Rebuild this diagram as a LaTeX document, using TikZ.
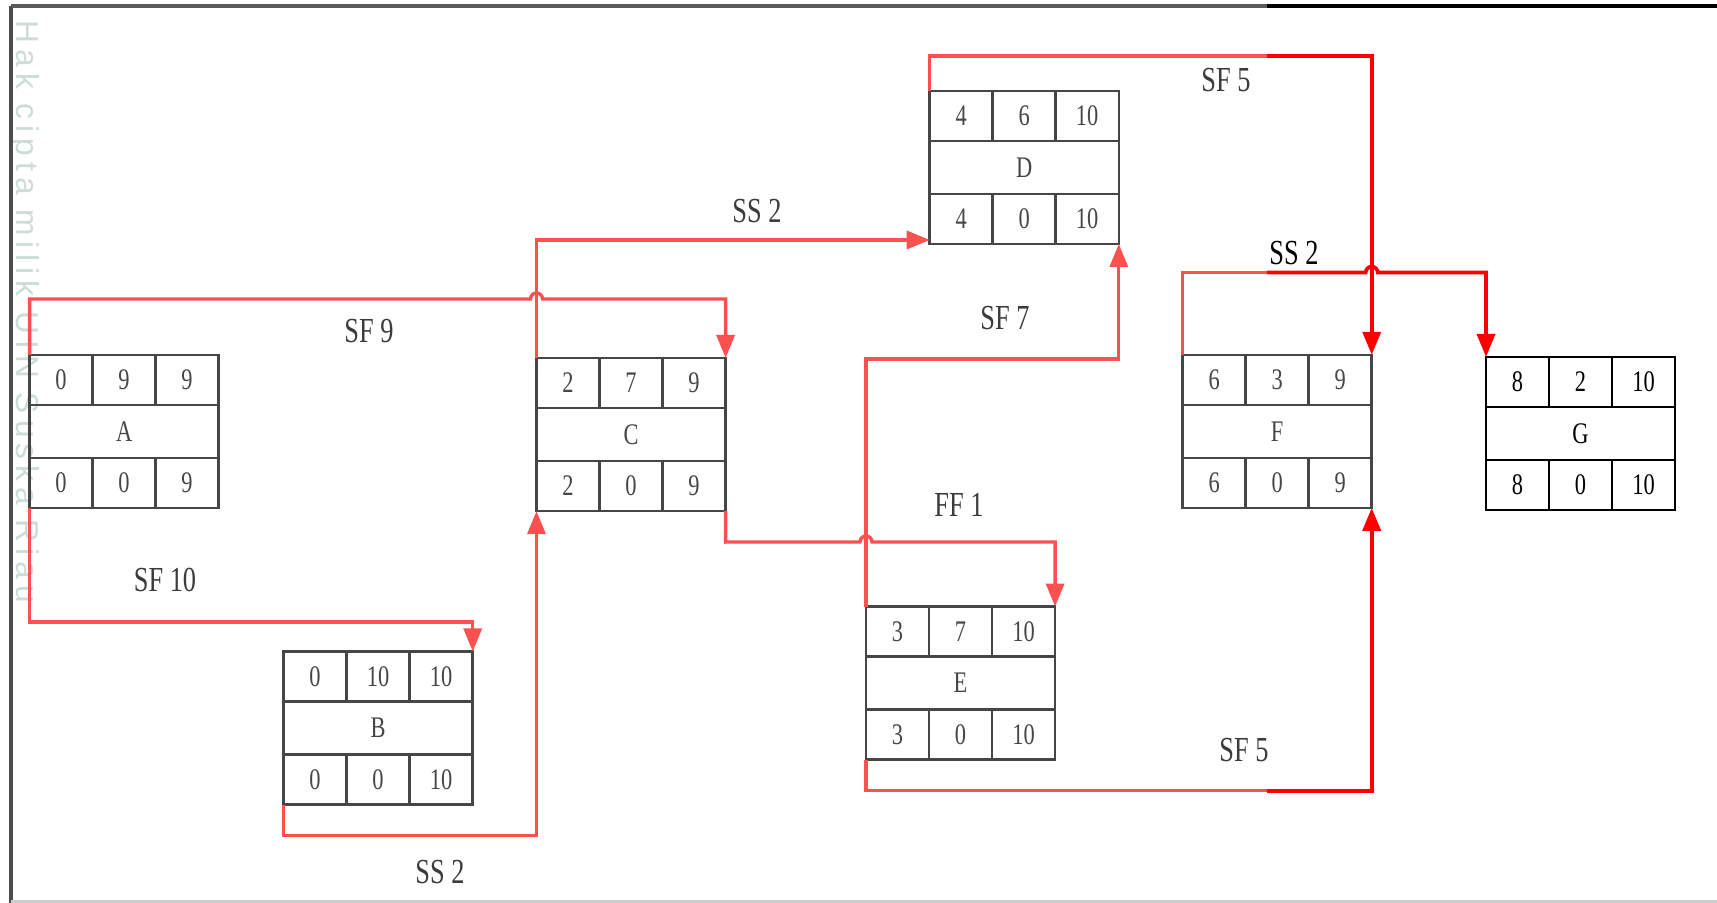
\documentclass[tikz,border=0pt]{standalone}
\usepackage{fontspec}
\setmainfont{Liberation Serif}[FakeStretch=0.75]
\newfontfamily\wmfont{Liberation Sans}[LetterSpace=19]
\usepackage{tikz}
\usetikzlibrary{arrows.meta, calc}
\definecolor{linkred}{RGB}{255, 80, 80}
\definecolor{fullred}{RGB}{255, 0, 0}
\definecolor{boxink}{RGB}{70, 70, 70}
\definecolor{labink}{RGB}{60, 60, 60}
\definecolor{wmgreen}{RGB}{204, 220, 214}

\tikzset{
  boxframe/.style={draw=boxink, line width=0.7pt, rectangle, minimum width=1.89cm,
                   minimum height=1.53cm, inner sep=0pt, outer sep=0pt},
  boxline/.style={draw=boxink, line width=0.7pt},
  celltext/.style={text=boxink, font=\fontsize{8.5}{10}\selectfont, inner sep=0pt},
  lagtext/.style={text=labink, font=\fontsize{10}{12}\selectfont, inner sep=0pt},
  netline/.style={draw=linkred, line width=0.95pt},
  link/.style={netline, -{Triangle[length=0.23cm, width=0.18cm]}},
  redlink/.style={link, draw=fullred, line width=1.05pt}
}

% #1 name, #2 top-left corner, #3-#5 top row, #6 activity, #7-#9 bottom row
\newcommand{\actbox}[9]{%
  \node[boxframe, anchor=north west] (#1) at (#2) {};
  \draw[boxline] ($(#1.north west)+(0,-50)$) -- ($(#1.north east)+(0,-50)$)
                 ($(#1.south west)+(0,50)$) -- ($(#1.south east)+(0,50)$)
                 ($(#1.north west)+(63,0)$) -- ++(0,-50)
                 ($(#1.north west)+(126,0)$) -- ++(0,-50)
                 ($(#1.south west)+(63,0)$) -- ++(0,50)
                 ($(#1.south west)+(126,0)$) -- ++(0,50);
  \node[celltext] at ($(#1.north west)+(31.5,-25)$) {#3};
  \node[celltext] at ($(#1.north west)+(94.5,-25)$) {#4};
  \node[celltext] at ($(#1.north west)+(157.5,-25)$) {#5};
  \node[celltext] at ($(#1.north west)+(94.5,-76.5)$) {#6};
  \node[celltext] at ($(#1.south west)+(31.5,25)$) {#7};
  \node[celltext] at ($(#1.south west)+(94.5,25)$) {#8};
  \node[celltext] at ($(#1.south west)+(157.5,25)$) {#9};
}

\begin{document}
\begin{tikzpicture}[x=0.01cm, y=0.01cm]
\useasboundingbox (0,0) rectangle (1717,903);
\fill[white] (0,0) rectangle (1717,903);

\node[rotate=-90, anchor=base west, text=wmgreen, inner sep=0pt,
      font=\wmfont\fontsize{9}{10}\selectfont] (mark) at (17,883) {Hak cipta milik UIN Suska Riau};

% page frame
\draw[black!70, line width=1.2pt] (11,0) -- (11,897);
\draw[black!65, line width=1pt] (11,897) -- (1267,897);
\draw[black, line width=1pt] (1267,897) -- (1717,897);
\draw[black!20, line width=0.6pt] (11,1.5) -- (1717,1.5);

\actbox{A}{29.6,548.2}{0}{9}{9}{A}{0}{0}{9}
\actbox{B}{283.6,251.5}{0}{10}{10}{B}{0}{0}{10}
\actbox{C}{536.5,545}{2}{7}{9}{C}{2}{0}{9}
\actbox{D}{929.7,812.1}{4}{6}{10}{D}{4}{0}{10}
\actbox{E}{866,296.4}{3}{7}{10}{E}{3}{0}{10}
\actbox{F}{1182.6,548.2}{6}{3}{9}{F}{6}{0}{9}
\begin{scope}
  \colorlet{boxink}{black}
  \actbox{G}{1486,546}{8}{2}{10}{G}{8}{0}{10}
\end{scope}

% relations
\draw[link] (A.north west) -- ++(0,55.8) -- ($(C.north west)+(-6,59)$)
  arc[start angle=180, end angle=0, radius=0.06cm] -| (C.north east);
\draw[link] (A.south west) -- ++(0,-114.2) -| (B.north east);
\draw[link] (B.south west) -- ++(0,-31) -| (C.south west);
\draw[link] (C.north west) |- ([yshift=0.04cm]D.south west);
\draw[link] (C.south east) -- ++(0,-31) -- ($(E.north west)+(-6,64.6)$)
  arc[start angle=180, end angle=0, radius=0.06cm] -| (E.north east);
\draw[link] (E.north west) -- ++(0,247.6) -| (D.south east);
\draw[netline] (E.south west) -- ++(0,-31) -- ++(401,0) coordinate (ef);
\draw[redlink] (ef) -| (F.south east);
\draw[netline] (D.north west) -- ++(0,34.9) -- ++(337.3,0) coordinate (df);
\draw[redlink] (df) -| (F.north east);
\draw[netline] (F.north west) -- ++(0,82.2) -- ++(84.4,0) coordinate (fg);
\draw[redlink] (fg) -- ($(F.north east)+(-6,82.2)$)
  arc[start angle=180, end angle=0, radius=0.06cm] -| (G.north west);

\node[lagtext] (lagAC) at (369,572) {SF 9};
\node[lagtext] (lagAB) at (165,323) {SF 10};
\node[lagtext] (lagBC) at (440,31.4) {SS 2};
\node[lagtext] (lagCD) at (757,692) {SS 2};
\node[lagtext] (lagCE) at (959,398) {FF 1};
\node[lagtext] (lagED) at (1005,585.4) {SF 7};
\node[lagtext] (lagEF) at (1244,153) {SF 5};
\node[lagtext] (lagDF) at (1226,823) {SF 5};
\node[lagtext, text=black] (lagFG) at (1294,650) {SS 2};
\end{tikzpicture}
\end{document}
